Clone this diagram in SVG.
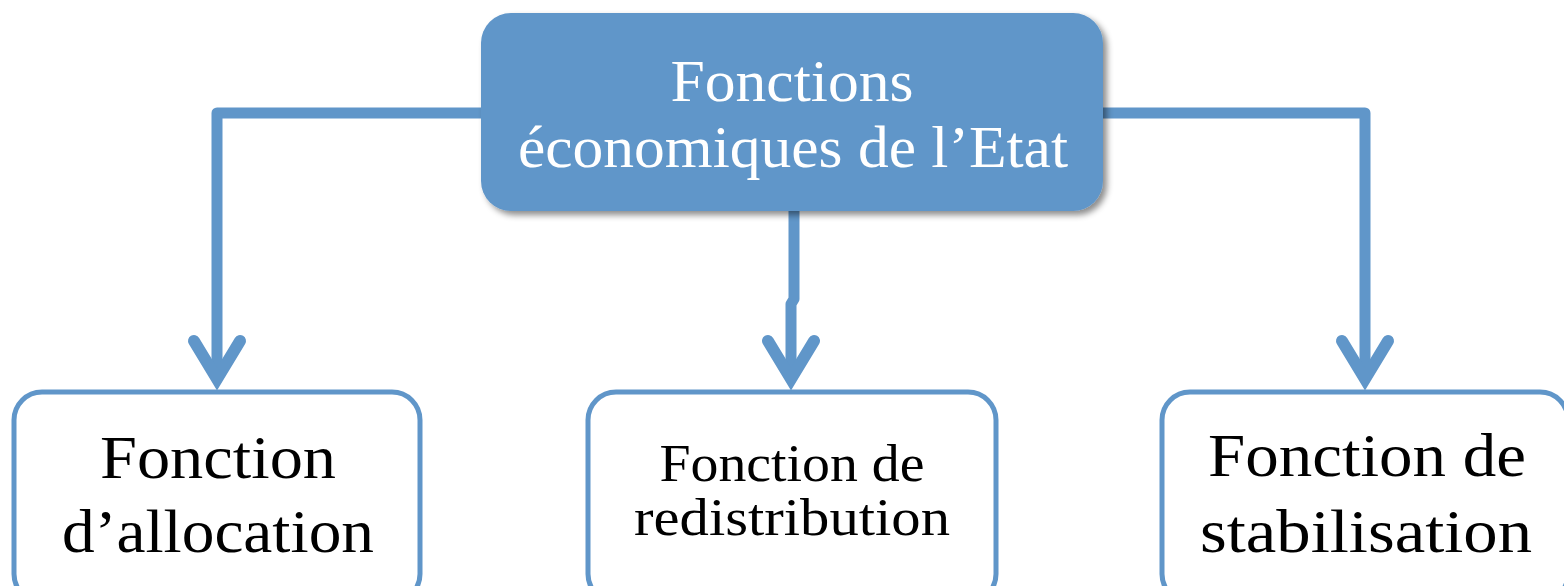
<svg xmlns="http://www.w3.org/2000/svg" width="1564" height="586" viewBox="0 0 1564 586">
<style>
.conn{fill:none;stroke:#6096C9;stroke-width:11;stroke-linejoin:round}
.box{fill:#fff;stroke:#6096C9;stroke-width:5}
.t{font-family:"Liberation Serif",serif;text-anchor:middle;fill:#000}
.w{fill:#fff}
</style>
<defs>
<filter id="sh" x="-10%" y="-10%" width="125%" height="130%">
<feDropShadow dx="4" dy="4" stdDeviation="3" flood-color="#000" flood-opacity="0.45"/>
</filter>
<marker id="ah" markerUnits="userSpaceOnUse" orient="auto" markerWidth="60" markerHeight="60" refX="0" refY="0" viewBox="-50 -30 60 60" overflow="visible">
<path d="M -38 -23 L 0 0 L -38 23" fill="none" stroke="#6096C9" stroke-width="12" stroke-linecap="round" stroke-linejoin="miter"/>
</marker>
</defs>
<g id="connectors">
<path class="conn" d="M 485 113 L 217 113 L 217 379" marker-end="url(#ah)"/>
<path class="conn" d="M 1098 113 L 1365 113 L 1365 379" marker-end="url(#ah)"/>
<path class="conn" d="M 794 208 L 794 299 L 791 304 L 791 379" marker-end="url(#ah)"/>
</g>
<g id="top">
<rect x="481" y="13" width="622" height="198" rx="30" fill="#6096C9" filter="url(#sh)"/>
<text class="t w" x="792" y="101" font-size="60" textLength="243" lengthAdjust="spacingAndGlyphs">Fonctions</text>
<text class="t w" x="793" y="167" font-size="60" textLength="550" lengthAdjust="spacingAndGlyphs">économiques de l’Etat</text>
</g>
<g id="allocation">
<rect class="box" x="14" y="392" width="406" height="210" rx="28"/>
<text class="t" x="218" y="478" font-size="62" textLength="236" lengthAdjust="spacingAndGlyphs">Fonction</text>
<text class="t" x="218" y="552" font-size="62" textLength="312" lengthAdjust="spacingAndGlyphs">d’allocation</text>
</g>
<g id="redistribution">
<rect class="box" x="588" y="392" width="408" height="210" rx="28"/>
<text class="t" x="792" y="481" font-size="52" textLength="265" lengthAdjust="spacingAndGlyphs">Fonction de</text>
<text class="t" x="792" y="535" font-size="52" textLength="316" lengthAdjust="spacingAndGlyphs">redistribution</text>
</g>
<g id="stabilisation">
<rect class="box" x="1162" y="392" width="406" height="210" rx="28"/>
<text class="t" x="1367" y="476" font-size="62" textLength="318" lengthAdjust="spacingAndGlyphs">Fonction de</text>
<text class="t" x="1366" y="552" font-size="62" textLength="332" lengthAdjust="spacingAndGlyphs">stabilisation</text>
</g>
</svg>
